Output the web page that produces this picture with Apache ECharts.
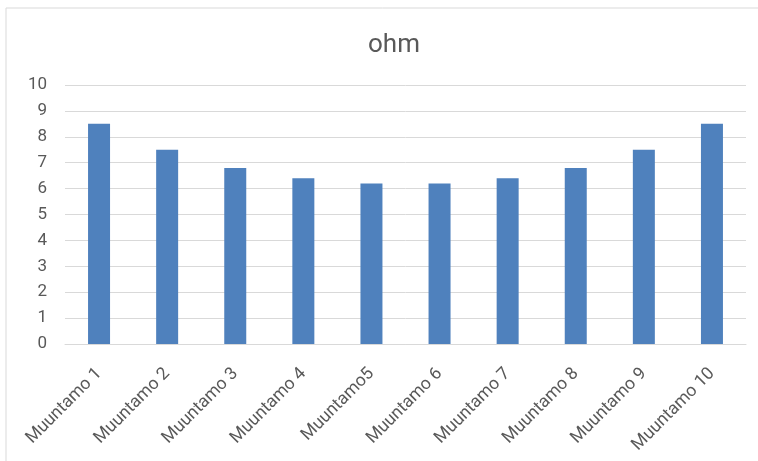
<!DOCTYPE html>
<html>
<head>
<meta charset="utf-8">
<script src="https://cdn.jsdelivr.net/npm/echarts@6/dist/echarts.min.js"></script>
<style>
html,body{margin:0;padding:0;background:#fff;}
#c{width:758px;height:461px;}
</style>
</head>
<body>
<div id="c"></div>
<script>
const titleText = 'ohm';
const categories = ['Muuntamo 1','Muuntamo 2','Muuntamo 3','Muuntamo 4','Muuntamo5','Muuntamo 6','Muuntamo 7','Muuntamo 8','Muuntamo 9','Muuntamo 10'];
const ohmValues = [8.5, 7.5, 6.8, 6.4, 6.2, 6.2, 6.4, 6.8, 7.5, 8.5];
const yMin = 0, yMax = 10, yStep = 1;

const chart = echarts.init(document.getElementById('c'), null, {renderer:'canvas'});
chart.setOption({
  animation: false,
  backgroundColor: '#ffffff',
  graphic: [{
    type: 'rect',
    shape: {x: 6, y: 8, width: 900, height: 600},
    style: {fill: 'none', stroke: '#d9d9d9', lineWidth: 1},
    silent: true
  }],
  title: {
    text: titleText,
    left: 389,
    top: 27,
    textAlign: 'center',
    textStyle: {fontFamily: 'Roboto', fontSize: 26, fontWeight: 'normal', color: '#595959'}
  },
  grid: {left: 65, right: 12, top: 85, bottom: 117, containLabel: false},
  xAxis: {
    type: 'category',
    data: categories,
    axisLine: {show: true, lineStyle: {color: '#d9d9d9', width: 1}},
    axisTick: {show: false},
    axisLabel: {rotate: 45, margin: 27, interval: 0, fontFamily: 'Roboto', fontSize: 17.5, color: '#595959'}
  },
  yAxis: {
    type: 'value',
    min: yMin, max: yMax, interval: yStep,
    axisLine: {show: false},
    axisTick: {show: false},
    splitLine: {lineStyle: {color: '#d9d9d9', width: 1}},
    axisLabel: {margin: 18, fontFamily: 'Roboto', fontSize: 17, color: '#595959'}
  },
  series: [{
    type: 'bar',
    name: titleText,
    data: ohmValues,
    barWidth: 22,
    itemStyle: {color: '#4f81bd'}
  }]
});
</script>
</body>
</html>
